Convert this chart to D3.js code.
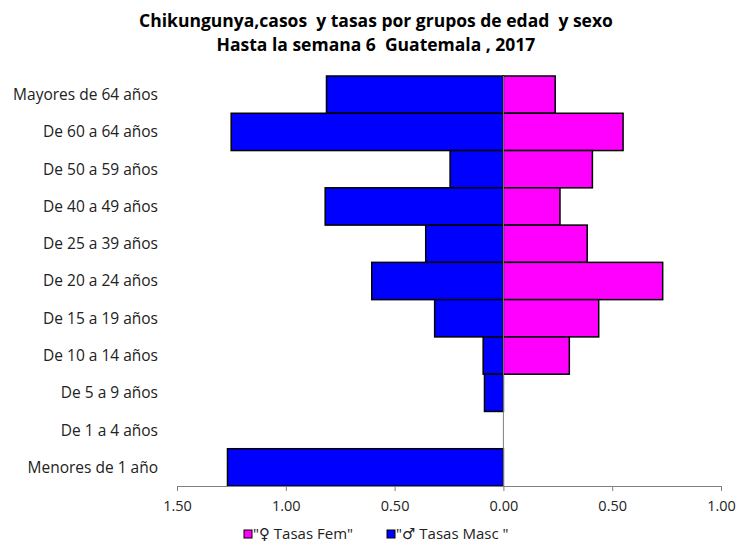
<!DOCTYPE html>
<html>
<head>
<meta charset="utf-8">
<script src="https://cdn.jsdelivr.net/npm/d3@7"></script>
<style>
  body { margin: 0; background: #fff; }
  svg { display: block; }
  text { white-space: pre; }
</style>
</head>
<body>
<svg id="chart" width="739" height="546"></svg>
<script>
// grupos de edad, de arriba hacia abajo
const grupos = ['Mayores de 64 años', 'De 60 a 64 años', 'De 50 a 59 años', 'De 40 a 49 años',
  'De 25 a 39 años', 'De 20 a 24 años', 'De 15 a 19 años', 'De 10 a 14 años',
  'De 5 a 9 años', 'De 1 a 4 años', 'Menores de 1 año']
const tasasFem = [0.238, 0.550, 0.409, 0.260, 0.385, 0.732, 0.438, 0.303, 0, 0, 0]
const tasasMasc = [0.813, 1.251, 0.245, 0.819, 0.357, 0.605, 0.316, 0.093, 0.087, 0, 1.268]
const ticks = [-1.5, -1, -0.5, 0, 0.5, 1]
const series = [
  { name: '"♀ Tasas Fem"', color: '#ff00ff' },
  { name: '"♂ Tasas Masc "', color: '#0000ff' }
]

const svg = d3.select('#chart')
const font = "'Open Sans', 'DejaVu Sans', sans-serif"

const x = d3.scaleLinear().domain([-1.5, 1]).range([177, 721])
const y = d3.scaleBand().domain(grupos).range([76, 486]).padding(0)

// título
svg.append('text')
  .attr('x', 376).attr('y', 27)
  .attr('text-anchor', 'middle')
  .attr('font-family', font).attr('font-weight', 'bold').attr('font-size', '17.5px')
  .text('Chikungunya,casos  y tasas por grupos de edad  y sexo')
svg.append('text')
  .attr('x', 376).attr('y', 51)
  .attr('text-anchor', 'middle')
  .attr('font-family', font).attr('font-weight', 'bold').attr('font-size', '17.5px')
  .text('Hasta la semana 6  Guatemala , 2017')

// barras masculinas (lado izquierdo)
svg.append('g').selectAll('rect')
  .data(grupos.map((g, i) => ({ g, v: tasasMasc[i] })).filter((d) => d.v > 0))
  .join('rect')
  .attr('x', (d) => x(-d.v))
  .attr('y', (d) => y(d.g))
  .attr('width', (d) => x(0) - x(-d.v))
  .attr('height', y.bandwidth())
  .attr('fill', series[1].color)
  .attr('stroke', '#000')
  .attr('stroke-width', 1.5)

// barras femeninas (lado derecho)
svg.append('g').selectAll('rect')
  .data(grupos.map((g, i) => ({ g, v: tasasFem[i] })).filter((d) => d.v > 0))
  .join('rect')
  .attr('x', x(0))
  .attr('y', (d) => y(d.g))
  .attr('width', (d) => x(d.v) - x(0))
  .attr('height', y.bandwidth())
  .attr('fill', series[0].color)
  .attr('stroke', '#000')
  .attr('stroke-width', 1.5)

// línea del cero
svg.append('line')
  .attr('x1', x(0)).attr('x2', x(0))
  .attr('y1', y.range()[0]).attr('y2', y.range()[1])
  .attr('stroke', '#808080').attr('stroke-width', 1)

// etiquetas de los grupos
svg.append('g').selectAll('text')
  .data(grupos)
  .join('text')
  .attr('x', 158)
  .attr('y', (d) => y(d) + y.bandwidth() / 2)
  .attr('dy', '0.35em')
  .attr('text-anchor', 'end')
  .attr('font-family', font).attr('font-size', '15.5px').attr('fill', '#222')
  .text((d) => d)

// eje x
const xAxis = d3.axisBottom(x)
  .tickValues(ticks)
  .tickSize(5)
  .tickFormat((d) => Math.abs(d).toFixed(2))
const gx = svg.append('g').attr('transform', `translate(0,${y.range()[1]})`).call(xAxis)
gx.select('.domain').attr('stroke', '#808080')
gx.selectAll('.tick line').attr('stroke', '#808080')
gx.selectAll('.tick text')
  .attr('font-family', font).attr('font-size', '14.5px').attr('fill', '#222')
  .attr('dy', '1.15em')

// leyenda
const legend = svg.append('g').attr('transform', 'translate(244,534)')
const items = legend.selectAll('g')
  .data(series)
  .join('g')
  .attr('transform', (d, i) => `translate(${i * 143},0)`)
items.append('rect')
  .attr('x', 0).attr('y', -4)
  .attr('width', 8).attr('height', 8)
  .attr('fill', (d) => d.color)
  .attr('stroke', '#000').attr('stroke-width', 1)
items.append('text')
  .attr('x', 9).attr('y', 0).attr('dy', '0.35em')
  .attr('font-family', font).attr('font-size', '15px').attr('fill', '#222')
  .text((d) => d.name)
</script>
</body>
</html>
